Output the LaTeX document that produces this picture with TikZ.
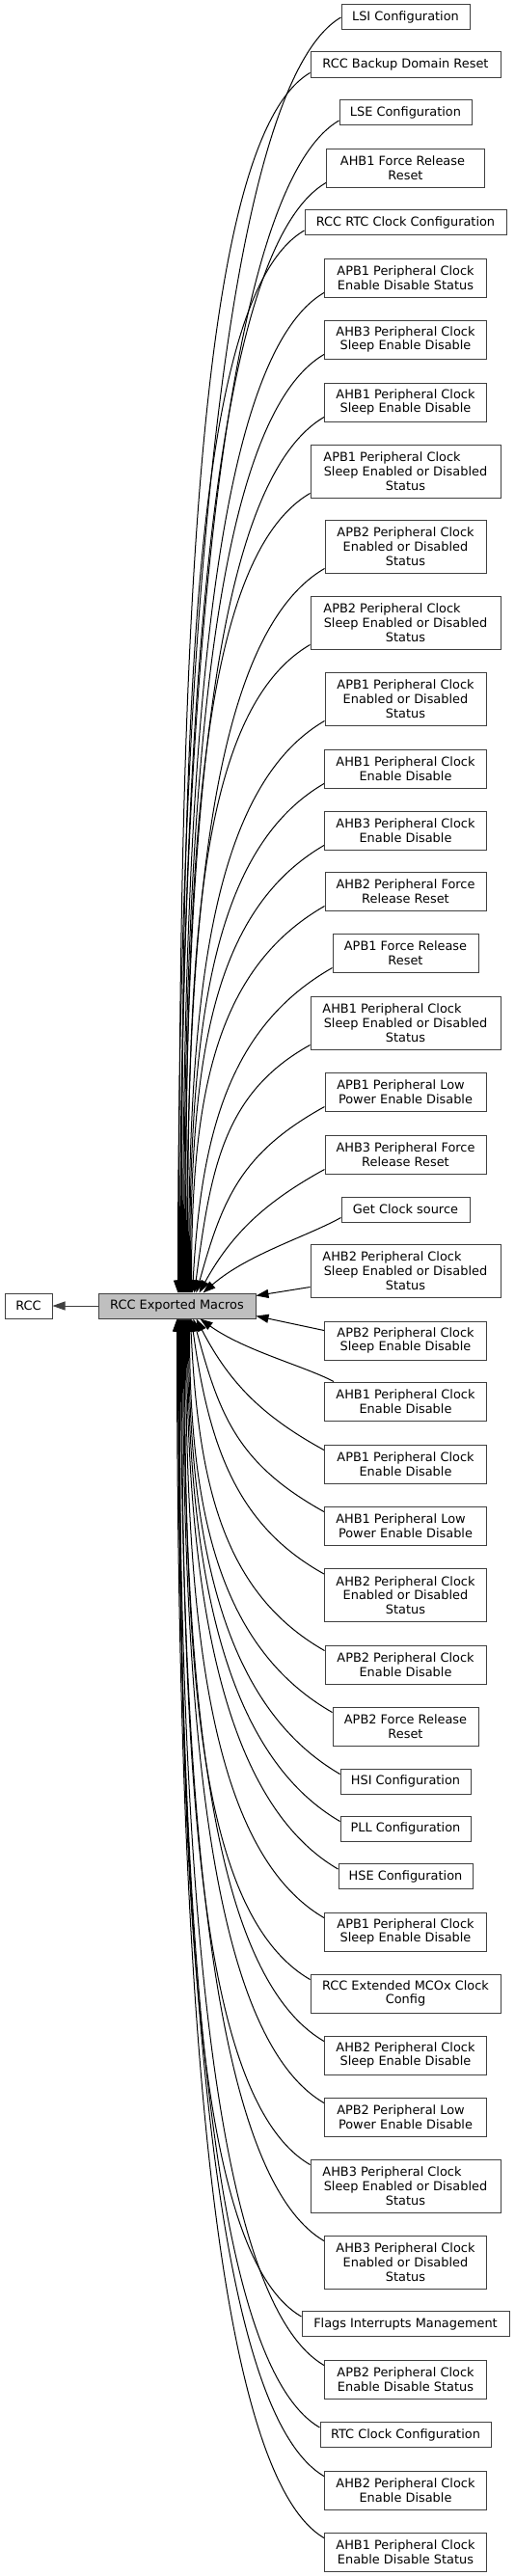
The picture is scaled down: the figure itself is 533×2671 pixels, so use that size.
\documentclass[tikz,border=0pt]{standalone}
\usepackage{fontspec}
\setmainfont{DejaVu Sans}
\usepackage{tikz}
\usetikzlibrary{arrows.meta}

\begin{document}
\begin{tikzpicture}[x=1pt,y=1pt,
    box/.style={draw=black!75,line width=1pt,fill=white,inner sep=0pt,align=center,
      font=\fontsize{12.9}{14.7}\selectfont,minimum height=26pt},
    two/.style={minimum height=40pt},
    three/.style={minimum height=55pt},
    edge/.style={draw=black,line width=1pt,-{Triangle[length=13pt,width=9pt]}}]
    \useasboundingbox (0,0) rectangle (533,-2671);
    % left part
    \node[box,minimum width=49pt] (rcc) at (29.5,-1354) {RCC};
    \node[box,minimum width=163pt,fill=black!25] (macros) at (183.5,-1354) {RCC Exported Macros};
    \draw[edge,draw=black!75] (macros) -- (rcc);
    % groups above
    \node[box,minimum width=133pt] (lsi) at (420.5,-18) {LSI Configuration};
    \node[box,minimum width=197pt] (bkprst) at (420.5,-67) {RCC Backup Domain Reset};
    \node[box,minimum width=137pt] (lse) at (420.5,-116.5) {LSE Configuration};
    \node[box,two,minimum width=164pt] (ahb1frr) at (420.5,-174) {AHB1 Force Release\hspace*{6pt}\\Reset};
    \node[box,minimum width=209pt] (rccrtc) at (420.5,-230.5) {RCC RTC Clock Configuration};
    \node[box,two,minimum width=168pt] (apb1ceds) at (420.5,-288) {APB1 Peripheral Clock\\Enable Disable Status};
    \node[box,two,minimum width=168pt] (ahb3csed) at (420.5,-352) {AHB3 Peripheral Clock\\Sleep Enable Disable};
    \node[box,two,minimum width=168pt] (ahb1csed) at (420.5,-417) {AHB1 Peripheral Clock\\Sleep Enable Disable};
    \node[box,three,minimum width=197pt] (apb1csst) at (420.5,-488.5) {APB1 Peripheral Clock\hspace*{28pt}\\Sleep Enabled or Disabled\\Status};
    \node[box,three,minimum width=167pt] (apb2cst) at (420.5,-566.5) {APB2 Peripheral Clock\\Enabled or Disabled\hspace*{9pt}\\Status};
    \node[box,three,minimum width=197pt] (apb2csst) at (420.5,-645.5) {APB2 Peripheral Clock\hspace*{28pt}\\Sleep Enabled or Disabled\\Status};
    \node[box,three,minimum width=167pt] (apb1cst) at (420.5,-724.5) {APB1 Peripheral Clock\\Enabled or Disabled\hspace*{9pt}\\Status};
    \node[box,two,minimum width=168pt] (ahb1ced) at (420.5,-797) {AHB1 Peripheral Clock\\Enable Disable};
    \node[box,two,minimum width=168pt] (ahb3ced) at (420.5,-861) {AHB3 Peripheral Clock\\Enable Disable};
    \node[box,two,minimum width=167pt] (ahb2frr) at (420.5,-924) {AHB2 Peripheral Force\\Release Reset};
    \node[box,two,minimum width=151pt] (apb1frr) at (420.5,-988) {APB1 Force Release\\Reset};
    \node[box,three,minimum width=197pt] (ahb1csst) at (420.5,-1060.5) {AHB1 Peripheral Clock\hspace*{28pt}\\Sleep Enabled or Disabled\\Status};
    \node[box,two,minimum width=167pt] (apb1lp) at (420.5,-1132) {APB1 Peripheral Low\hspace*{10pt}\\Power Enable Disable};
    \node[box,two,minimum width=167pt] (ahb3frr) at (420.5,-1197) {AHB3 Peripheral Force\\Release Reset};
    \node[box,minimum width=133pt] (clksrc) at (420.5,-1254) {Get Clock source};
    \node[box,three,minimum width=197pt] (ahb2csst) at (420.5,-1317.5) {AHB2 Peripheral Clock\hspace*{28pt}\\Sleep Enabled or Disabled\\Status};
    % groups below
    \node[box,two,minimum width=168pt] (apb2csed) at (420.5,-1390) {APB2 Peripheral Clock\\Sleep Enable Disable};
    \node[box,two,minimum width=168pt] (ahb1cedb) at (420.5,-1453) {AHB1 Peripheral Clock\\Enable Disable};
    \node[box,two,minimum width=168pt] (apb1ced) at (420.5,-1518) {APB1 Peripheral Clock\\Enable Disable};
    \node[box,two,minimum width=168pt] (ahb1lp) at (420.5,-1582) {AHB1 Peripheral Low\hspace*{10pt}\\Power Enable Disable};
    \node[box,three,minimum width=168pt] (ahb2cst) at (420.5,-1654) {AHB2 Peripheral Clock\\Enabled or Disabled\hspace*{9pt}\\Status};
    \node[box,two,minimum width=167pt] (apb2ced) at (420.5,-1726) {APB2 Peripheral Clock\\Enable Disable};
    \node[box,two,minimum width=151pt] (apb2frr) at (420.5,-1790) {APB2 Force Release\\Reset};
    \node[box,minimum width=135pt] (hsi) at (420.5,-1847) {HSI Configuration};
    \node[box,minimum width=135pt] (pll) at (420.5,-1896) {PLL Configuration};
    \node[box,minimum width=139pt] (hse) at (420.5,-1945.5) {HSE Configuration};
    \node[box,two,minimum width=168pt] (apb1csed) at (420.5,-2003) {APB1 Peripheral Clock\\Sleep Enable Disable};
    \node[box,two,minimum width=197pt] (mco) at (420.5,-2067) {RCC Extended MCOx Clock\\Config};
    \node[box,two,minimum width=168pt] (ahb2csed) at (420.5,-2131) {AHB2 Peripheral Clock\\Sleep Enable Disable};
    \node[box,two,minimum width=168pt] (apb2lp) at (420.5,-2195) {APB2 Peripheral Low\hspace*{10pt}\\Power Enable Disable};
    \node[box,three,minimum width=197pt] (ahb3csst) at (420.5,-2266.5) {AHB3 Peripheral Clock\hspace*{28pt}\\Sleep Enabled or Disabled\\Status};
    \node[box,three,minimum width=168pt] (ahb3cst) at (420.5,-2345.5) {AHB3 Peripheral Clock\\Enabled or Disabled\hspace*{9pt}\\Status};
    \node[box,minimum width=215pt] (flags) at (420.5,-2409.5) {Flags Interrupts Management};
    \node[box,two,minimum width=168pt] (apb2ceds) at (420.5,-2467) {APB2 Peripheral Clock\\Enable Disable Status};
    \node[box,minimum width=177pt] (rtc) at (420.5,-2524.5) {RTC Clock Configuration};
    \node[box,two,minimum width=168pt] (ahb2ced) at (420.5,-2582) {AHB2 Peripheral Clock\\Enable Disable};
    \node[box,two,minimum width=168pt] (ahb1ceds) at (420.5,-2646) {AHB1 Peripheral Clock\\Enable Disable Status};
    % edges from above
    \draw[edge] (lsi.west) .. controls +(-120,-70) and +(0,680) .. ([xshift=1pt]macros.north);
    \draw[edge] ([yshift=5pt]bkprst.south west) .. controls +(-120,-70) and +(0,650) .. ([xshift=2pt]macros.north);
    \draw[edge] ([yshift=5pt]lse.south west) .. controls +(-120,-70) and +(0,620) .. ([xshift=3pt]macros.north);
    \draw[edge] ([yshift=5pt]ahb1frr.south west) .. controls +(-120,-70) and +(0,590) .. ([xshift=4pt]macros.north);
    \draw[edge] ([yshift=5pt]rccrtc.south west) .. controls +(-120,-70) and +(0,560) .. ([xshift=5pt]macros.north);
    \draw[edge] ([yshift=5pt]apb1ceds.south west) .. controls +(-120,-70) and +(0,525) .. ([xshift=6pt]macros.north);
    \draw[edge] ([yshift=5pt]ahb3csed.south west) .. controls +(-120,-70) and +(0,490) .. ([xshift=7pt]macros.north);
    \draw[edge] ([yshift=5pt]ahb1csed.south west) .. controls +(-120,-70) and +(0,455) .. ([xshift=8pt]macros.north);
    \draw[edge] ([yshift=5pt]apb1csst.south west) .. controls +(-120,-70) and +(0,415) .. ([xshift=9pt]macros.north);
    \draw[edge] ([yshift=5pt]apb2cst.south west) .. controls +(-120,-70) and +(0,376) .. ([xshift=10pt]macros.north);
    \draw[edge] ([yshift=5pt]apb2csst.south west) .. controls +(-120,-70) and +(0,336) .. ([xshift=11pt]macros.north);
    \draw[edge] ([yshift=5pt]apb1cst.south west) .. controls +(-120,-70) and +(0,297) .. ([xshift=12pt]macros.north);
    \draw[edge] ([yshift=5pt]ahb1ced.south west) .. controls +(-120,-70) and +(0,264) .. ([xshift=13pt]macros.north);
    \draw[edge] ([yshift=5pt]ahb3ced.south west) .. controls +(-120,-70) and +(0,232) .. ([xshift=14pt]macros.north);
    \draw[edge] ([yshift=5pt]ahb2frr.south west) .. controls +(-115,-66) and +(0,201) .. ([xshift=15pt]macros.north);
    \draw[edge] ([yshift=5pt]apb1frr.south west) .. controls +(-105,-60) and +(9,169) .. ([xshift=16pt]macros.north);
    \draw[edge] ([yshift=5pt]ahb1csst.south west) .. controls +(-90,-50) and +(17,129) .. ([xshift=18pt]macros.north);
    \draw[edge] ([yshift=5pt]apb1lp.south west) .. controls +(-87,-48) and +(27,97) .. ([xshift=20pt]macros.north);
    \draw[edge] ([yshift=5pt]ahb3frr.south west) .. controls +(-58,-32) and +(35,64) .. ([xshift=23pt]macros.north);
    \draw[edge] ([yshift=5pt]clksrc.south west) .. controls +(-36,-20) and +(46,40) .. ([xshift=27pt]macros.north);
    \draw[edge] ([yshift=11pt]ahb2csst.south west) -- ([yshift=-3pt]macros.north east);
    % edges from below
    \draw[edge] ([yshift=-10pt]apb2csed.north west) -- ([yshift=3pt]macros.south east);
    \draw[edge] ([xshift=10pt]ahb1cedb.north west) .. controls +(-30,16) and +(46,-33) .. ([xshift=24pt]macros.south);
    \draw[edge] ([yshift=-6pt]apb1ced.north west) .. controls +(-62,34) and +(35,-68) .. ([xshift=20pt]macros.south);
    \draw[edge] ([yshift=-6pt]ahb1lp.north west) .. controls +(-90,50) and +(27,-100) .. ([xshift=17pt]macros.south);
    \draw[edge] ([yshift=-6pt]ahb2cst.north west) .. controls +(-90,50) and +(18,-133) .. ([xshift=15pt]macros.south);
    \draw[edge] ([yshift=-6pt]apb2ced.north west) .. controls +(-105,60) and +(8,-172) .. ([xshift=14pt]macros.south);
    \draw[edge] ([yshift=-6pt]apb2frr.north west) .. controls +(-115,66) and +(0,-204) .. ([xshift=13pt]macros.south);
    \draw[edge] ([yshift=-6pt]hsi.north west) .. controls +(-120,70) and +(0,-236) .. ([xshift=12pt]macros.south);
    \draw[edge] ([yshift=-6pt]pll.north west) .. controls +(-120,70) and +(0,-261) .. ([xshift=11pt]macros.south);
    \draw[edge] ([yshift=-6pt]hse.north west) .. controls +(-120,70) and +(0,-286) .. ([xshift=10pt]macros.south);
    \draw[edge] ([yshift=-6pt]apb1csed.north west) .. controls +(-120,70) and +(0,-311) .. ([xshift=9pt]macros.south);
    \draw[edge] ([yshift=-6pt]mco.north west) .. controls +(-120,70) and +(0,-343) .. ([xshift=8pt]macros.south);
    \draw[edge] ([yshift=-6pt]ahb2csed.north west) .. controls +(-120,70) and +(0,-375) .. ([xshift=7pt]macros.south);
    \draw[edge] ([yshift=-6pt]apb2lp.north west) .. controls +(-120,70) and +(0,-407) .. ([xshift=6pt]macros.south);
    \draw[edge] ([yshift=-6pt]ahb3csst.north west) .. controls +(-120,70) and +(0,-440) .. ([xshift=5pt]macros.south);
    \draw[edge] ([yshift=-6pt]ahb3cst.north west) .. controls +(-120,70) and +(0,-480) .. ([xshift=4pt]macros.south);
    \draw[edge] ([yshift=-6pt]flags.north west) .. controls +(-120,70) and +(0,-525) .. ([xshift=3pt]macros.south);
    \draw[edge] ([yshift=-6pt]apb2ceds.north west) .. controls +(-120,70) and +(0,-555) .. ([xshift=2pt]macros.south);
    \draw[edge] ([yshift=-6pt]rtc.north west) .. controls +(-120,70) and +(0,-590) .. ([xshift=1.5pt]macros.south);
    \draw[edge] ([yshift=-6pt]ahb2ced.north west) .. controls +(-120,70) and +(0,-620) .. ([xshift=1pt]macros.south);
    \draw[edge] ([yshift=-6pt]ahb1ceds.north west) .. controls +(-120,70) and +(0,-650) .. (macros.south);
\end{tikzpicture}
\end{document}
